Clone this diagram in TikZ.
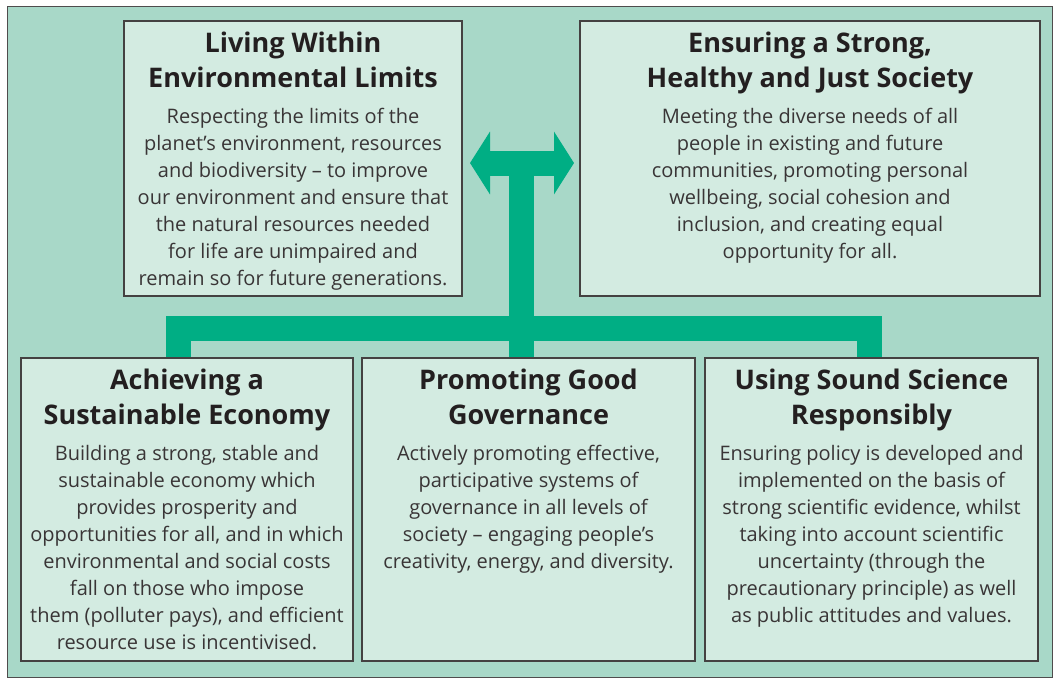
\documentclass[tikz,border=0pt]{standalone}
\usepackage{fontspec}
\setmainfont{Open Sans}
\usetikzlibrary{positioning,arrows.meta}

\definecolor{panelbg}{HTML}{A8D8C8}
\definecolor{boxbg}{HTML}{D3EBE1}
\definecolor{linkgreen}{HTML}{00AE84}
\definecolor{inkdark}{HTML}{231F20}

\newcommand{\firstline}[1]{\rule{0pt}{#1}}

\tikzset{
  pillar/.style={
    draw=inkdark!85,
    fill=boxbg,
    line width=1.2pt,
    inner sep=0pt,
  },
  heading/.style={
    inner sep=0pt,
    align=center,
    text=inkdark,
    font=\fontsize{27}{35}\selectfont\bfseries,
  },
  blurb/.style={
    inner sep=0pt,
    align=center,
    text=inkdark!90,
    font=\fontsize{20}{27}\selectfont,
  },
  link/.style={
    draw=linkgreen,
    line width=25pt,
  },
}

\begin{document}
\begin{tikzpicture}[x=1pt,y=-1pt]

    \useasboundingbox (0,0) rectangle (1056,678);
    \draw[fill=panelbg,draw=inkdark!80,line width=1pt] (7,6) rectangle (1052,677);

    % the five pillars
    \node[pillar,minimum width=338pt,minimum height=275pt] (limits) at (293,158.5) {};
    \node[pillar,minimum width=460pt,minimum height=275pt] (society) at (810,158.5) {};
    \node[pillar,minimum width=332pt,minimum height=303pt] (economy) at (187,509.5) {};
    \node[pillar,minimum width=333pt,minimum height=303pt] (governance) at (528.5,509.5) {};
    \node[pillar,minimum width=333pt,minimum height=303pt] (science) at (871.5,509.5) {};

    % headings and texts (first baselines 32pt and 103pt below the top edge)
    \node[heading,below=2pt of limits.north] (limitsT) {\firstline{30pt}Living Within\\Environmental Limits};
    \node[blurb,below=83pt of limits.north] (limitsB) {\firstline{20pt}Respecting the limits of the\\planet’s environment, resources\\and biodiversity – to improve\\our environment and ensure that\\the natural resources needed\\for life are unimpaired and\\remain so for future generations.};

    \node[heading,below=2pt of society.north] (societyT) {\firstline{30pt}Ensuring a Strong,\\Healthy and Just Society};
    \node[blurb,below=83pt of society.north] (societyB) {\firstline{20pt}Meeting the diverse needs of all\\people in existing and future\\communities, promoting personal\\wellbeing, social cohesion and\\inclusion, and creating equal\\opportunity for all.};

    \node[heading,below=2pt of economy.north] (economyT) {\firstline{30pt}Achieving a\\Sustainable Economy};
    \node[blurb,below=83pt of economy.north] (economyB) {\firstline{20pt}Building a strong, stable and\\sustainable economy which\\provides prosperity and\\opportunities for all, and in which\\environmental and social costs\\fall on those who impose\\them (polluter pays), and efficient\\resource use is incentivised.};

    \node[heading,below=2pt of governance.north] (governanceT) {\firstline{30pt}Promoting Good\\Governance};
    \node[blurb,below=83pt of governance.north] (governanceB) {\firstline{20pt}Actively promoting effective,\\participative systems of\\governance in all levels of\\society – engaging people’s\\creativity, energy, and diversity.};

    \node[heading,below=2pt of science.north] (scienceT) {\firstline{30pt}Using Sound Science\\Responsibly};
    \node[blurb,below=83pt of science.north] (scienceB) {\firstline{20pt}Ensuring policy is developed and\\implemented on the basis of\\strong scientific evidence, whilst\\taking into account scientific\\uncertainty (through the\\precautionary principle) as well\\as public attitudes and values.};

    % green links
    \coordinate (hub) at (521.5,163);
    \coordinate (tipL) at (470,163);
    \coordinate (tipR) at (574,163);
    \coordinate (barL) at (178,328);
    \coordinate (barR) at (869.5,328);
    \draw[link] (governance.north -| hub) -- (hub);
    \draw[link,{Triangle[length=20pt,width=62pt]}-{Triangle[length=20pt,width=62pt]}] (tipL) -- (tipR);
    \draw[link,line join=miter] (barL |- economy.north) -- (barL) -- (barR) -- (barR |- science.north);

\end{tikzpicture}
\end{document}
